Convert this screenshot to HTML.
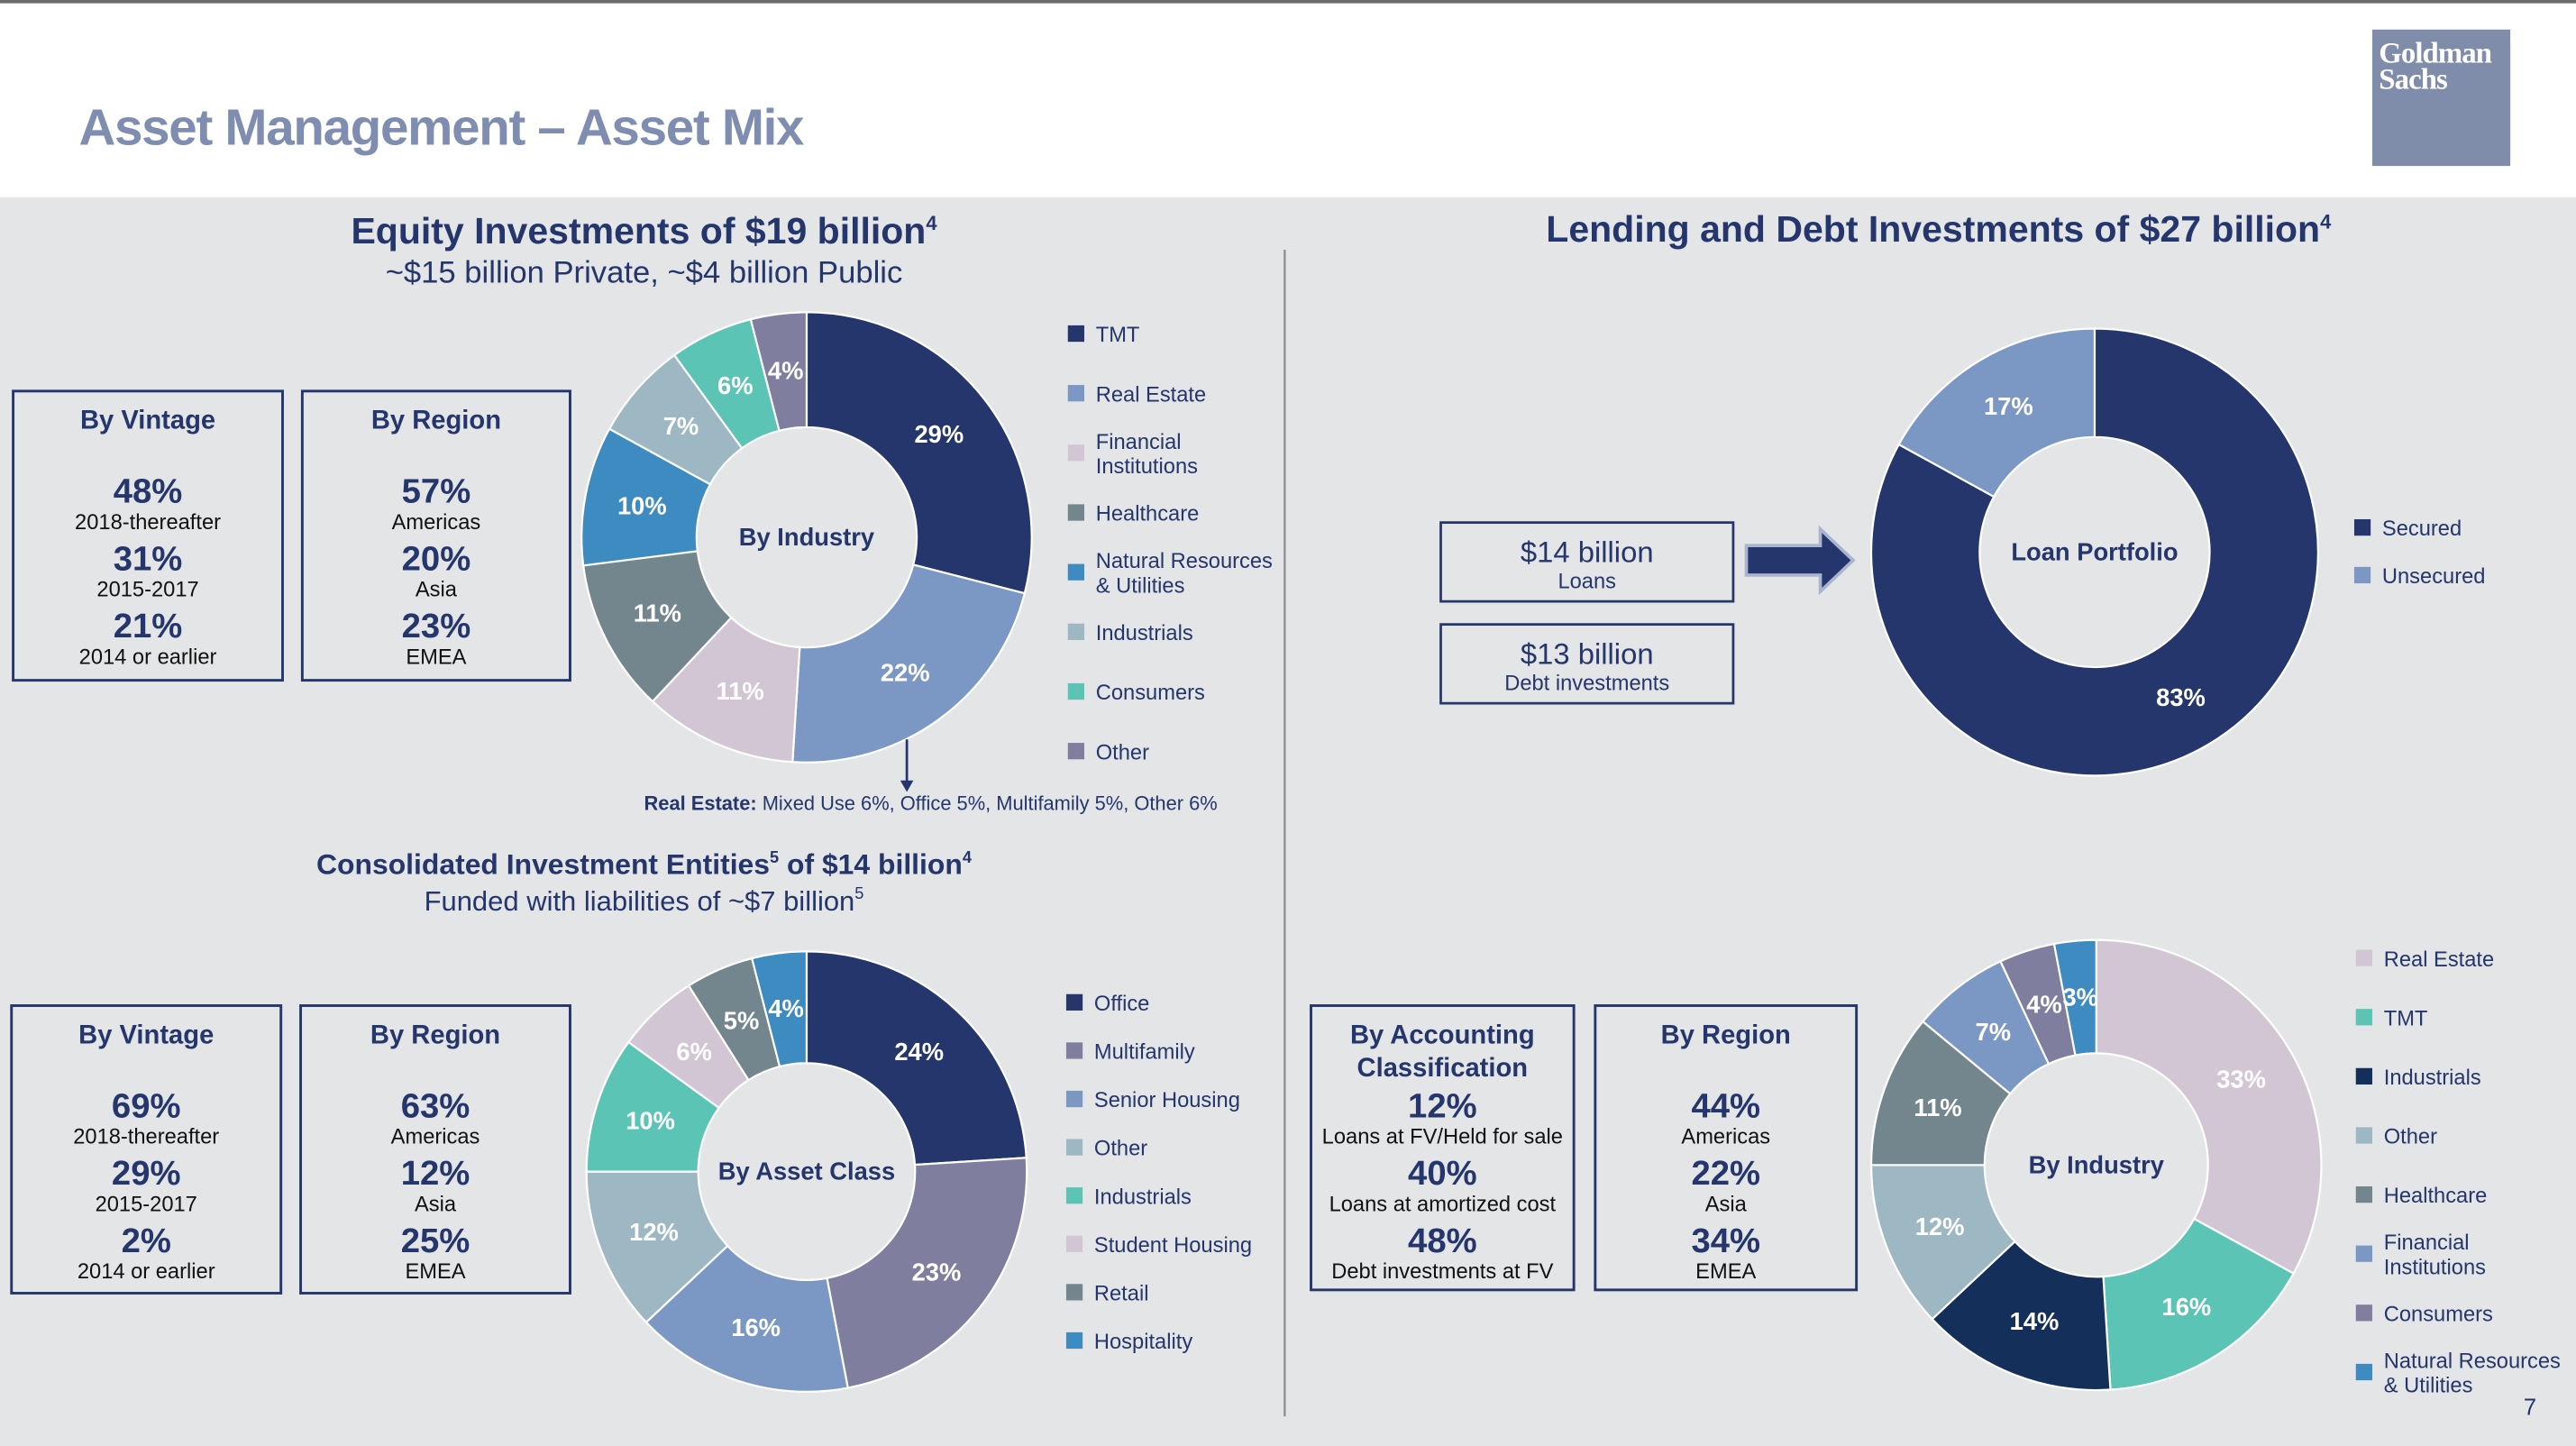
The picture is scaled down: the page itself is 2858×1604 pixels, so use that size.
<!DOCTYPE html>
<html><head><meta charset="utf-8"><style>
html,body{margin:0;padding:0;background:#fff;}
svg{display:block;font-family:"Liberation Sans",Arial,sans-serif;}
</style></head><body>
<svg id="s" width="2858" height="1604" viewBox="0 0 1568 880" xmlns="http://www.w3.org/2000/svg">
<rect x="0" y="0" width="1568" height="880" fill="#ffffff"/>
<rect x="0" y="0" width="1568" height="2" fill="#6b6b6b"/>
<rect x="0" y="120" width="1568" height="760" fill="#e4e5e7"/>
<text x="48" y="88" font-size="31" font-weight="bold" fill="#7f8db0" letter-spacing="-0.7">Asset Management – Asset Mix</text>
<g>
<rect x="1444" y="18" width="84" height="83" fill="#7f8dab"/>
<text x="1448" y="38" font-size="18" font-weight="bold" fill="#fff" font-family="Liberation Serif,serif" letter-spacing="-0.5">Goldman</text>
<text x="1448" y="54" font-size="18" font-weight="bold" fill="#fff" font-family="Liberation Serif,serif" letter-spacing="-0.5">Sachs</text>
</g>
<line x1="782" y1="152" x2="782" y2="862" stroke="#8a8a8a" stroke-width="1.2"/>

<text x="392" y="148" text-anchor="middle" font-size="22.5" font-weight="bold" fill="#24366b">Equity Investments of $19 billion<tspan font-size="12" dy="-8">4</tspan></text>
<text x="392" y="172" text-anchor="middle" font-size="19" fill="#24366b">~$15 billion Private, ~$4 billion Public</text>
<text x="1180" y="147" text-anchor="middle" font-size="22.5" font-weight="bold" fill="#24366b">Lending and Debt Investments of $27 billion<tspan font-size="12" dy="-8">4</tspan></text>
<text x="392" y="532" text-anchor="middle" font-size="17.5" font-weight="bold" fill="#24366b">Consolidated Investment Entities<tspan font-size="10" dy="-7">5</tspan><tspan dy="7"> of $14 billion</tspan><tspan font-size="10" dy="-7">4</tspan></text>
<text x="392" y="554" text-anchor="middle" font-size="17" fill="#24366b">Funded with liabilities of ~$7 billion<tspan font-size="10" dy="-7">5</tspan></text>

<g id="boxes"></g>
<g id="charts"></g>

<text x="392" y="493" font-size="12" fill="#24366b"><tspan font-weight="bold">Real Estate:</tspan> Mixed Use 6%, Office 5%, Multifamily 5%, Other 6%</text>
<line x1="552" y1="450" x2="552" y2="476" stroke="#24366b" stroke-width="1.5"/>
<polygon points="548,475 556,475 552,482" fill="#24366b"/>

<g><rect x="877" y="318" width="178" height="48" fill="none" stroke="#24366b" stroke-width="1.5"/>
<text x="966" y="342" text-anchor="middle" font-size="18" fill="#24366b">$14 billion</text><text x="966" y="358" text-anchor="middle" font-size="13" fill="#24366b">Loans</text></g>
<g><rect x="877" y="380" width="178" height="48" fill="none" stroke="#24366b" stroke-width="1.5"/>
<text x="966" y="404" text-anchor="middle" font-size="18" fill="#24366b">$13 billion</text><text x="966" y="420" text-anchor="middle" font-size="13" fill="#24366b">Debt investments</text></g>
<polygon points="1063,332 1108,332 1108,322 1128,341 1108,360 1108,350 1063,350" fill="#24366b" stroke="#a9b4cf" stroke-width="2"/>
<text x="1540" y="861" text-anchor="middle" font-size="14" fill="#24366b">7</text>
</svg>
<script>
const NS='http://www.w3.org/2000/svg';
function mk(tag,attrs,parent,txt){const e=document.createElementNS(NS,tag);for(const k in attrs)e.setAttribute(k,attrs[k]);if(txt!==undefined)e.textContent=txt;parent.appendChild(e);return e;}

// Chart 1: equity by industry
const eqCats=['TMT','Real Estate','Financial Institutions','Healthcare','Natural Resources & Utilities','Industrials','Consumers','Other'];
const eqVals=[29,22,11,11,10,7,6,4];
const eqCols=['#24366b','#7b98c4','#d3c6d4','#73858d','#3d8bc1','#9db8c3','#5cc4b4','#7f7e9e'];
const eqLegend=['TMT','Real Estate','Financial|Institutions','Healthcare','Natural Resources|& Utilities','Industrials','Consumers','Other'];
const eqLegendCols=['#24366b','#7b98c4','#d3c6d4','#73858d','#3d8bc1','#9db8c3','#5cc4b4','#7f7e9e'];
// Chart 2: loan portfolio
const loanCats=['Secured','Unsecured'];
const loanVals=[83,17];
const loanCols=['#24366b','#7b98c4'];
// Chart 3: consolidated by asset class
const ceCats=['Office','Multifamily','Senior Housing','Other','Industrials','Student Housing','Retail','Hospitality'];
const ceVals=[24,23,16,12,10,6,5,4];
const ceCols=['#24366b','#7f7e9e','#7b98c4','#9db8c3','#5cc4b4','#d3c6d4','#73858d','#3d8bc1'];
// Chart 4: lending by industry
const ldCats=['Real Estate','TMT','Industrials','Other','Healthcare','Financial Institutions','Consumers','Natural Resources & Utilities'];
const ldVals=[33,16,14,12,11,7,4,3];
const ldCols=['#d3c6d4','#5cc4b4','#14305a','#9db8c3','#73858d','#7b98c4','#7f7e9e','#3d8bc1'];
const ldLegend=['Real Estate','TMT','Industrials','Other','Healthcare','Financial|Institutions','Consumers','Natural Resources|& Utilities'];

const charts=document.getElementById('charts');
function donut(name,cx,cy,ro,ri,vals,cols,cats,center,labelR){
  const g=mk('g',{},charts);
  
  
  const tot=vals.reduce((a,b)=>a+b,0);
  let a0=0;
  vals.forEach((v,i)=>{
    const a1=a0+v/tot*2*Math.PI;
    const p=(r,a)=>[cx+r*Math.sin(a),cy-r*Math.cos(a)];
    const [x0,y0]=p(ro,a0),[x1,y1]=p(ro,a1),[x2,y2]=p(ri,a1),[x3,y3]=p(ri,a0);
    const lg=(a1-a0)>Math.PI?1:0;
    const s=mk('path',{d:`M${x0},${y0}A${ro},${ro} 0 ${lg} 1 ${x1},${y1}L${x2},${y2}A${ri},${ri} 0 ${lg} 0 ${x3},${y3}Z`,fill:cols[i],stroke:'#ffffff','stroke-width':1.2},g);
    
    
    const am=(a0+a1)/2;const lr=labelR||(ro+ri)/2;
    const [lx,ly]=p(lr,am);
    const t=mk('text',{x:lx,y:ly+5,'text-anchor':'middle','font-size':15,'font-weight':'bold',fill:'#ffffff'},g,v+'%');
    
    
    a0=a1;
  });
  const c=mk('text',{x:cx,y:cy+5,'text-anchor':'middle','font-size':15,'font-weight':'bold',fill:'#24366b'},g,center);
  
  
}
donut('equity-industry-donut',491,327,137,67,eqVals,eqCols,eqCats,'By Industry');
donut('loan-portfolio-donut',1275,336,136,70,loanVals,loanCols,loanCats,'Loan Portfolio');
donut('consolidated-asset-class-donut',491,713,134,66,ceVals,ceCols,ceCats,'By Asset Class');
donut('lending-industry-donut',1276,709,137,68,ldVals,ldCols,ldCats,'By Industry');

function legend(name,x,y0,dy,labels,cols){
  const g=mk('g',{},charts);
  
  
  labels.forEach((l,i)=>{
    const y=y0+i*dy;const parts=l.split('|');
    const e=mk('g',{},g);
    
    
    mk('rect',{x:x,y:y-5,width:10,height:10,fill:cols[i]},e);
    parts.forEach((p,j)=>mk('text',{x:x+17,y:y+5+j*15-(parts.length-1)*7.5,'font-size':13,fill:'#24366b'},e,p));
  });
}
legend('equity-industry-legend',650,203,36.3,eqLegend,eqLegendCols);
legend('loan-legend',1433,321,29,loanCats,loanCols);
legend('consolidated-legend',649,610,29.4,ceCats,ceCols);
legend('lending-industry-legend',1434,583,36,ldLegend,ldCols);

const boxes=document.getElementById('boxes');
function box(name,x,y,w,h,title,rows){
  const g=mk('g',{},boxes);
  
  
  mk('rect',{x:x,y:y,width:w,height:h,fill:'none',stroke:'#24366b','stroke-width':1.6},g);
  const cx=x+w/2;
  title.forEach((t,i)=>mk('text',{x:cx,y:y+23+i*20,'text-anchor':'middle','font-size':16,'font-weight':'bold',fill:'#24366b'},g,t));
  rows.forEach((r,i)=>{
    const by=y+68+i*41;
    mk('text',{x:cx,y:by,'text-anchor':'middle','font-size':21,'font-weight':'bold',fill:'#24366b'},g,r[0]);
    mk('text',{x:cx,y:by+16,'text-anchor':'middle','font-size':13,fill:'#111'},g,r[1]);
  });
}
box('equity-vintage-box',8,238,164,176,['By Vintage'],[['48%','2018-thereafter'],['31%','2015-2017'],['21%','2014 or earlier']]);
box('equity-region-box',184,238,163,176,['By Region'],[['57%','Americas'],['20%','Asia'],['23%','EMEA']]);
box('consolidated-vintage-box',7,612,164,175,['By Vintage'],[['69%','2018-thereafter'],['29%','2015-2017'],['2%','2014 or earlier']]);
box('consolidated-region-box',183,612,164,175,['By Region'],[['63%','Americas'],['12%','Asia'],['25%','EMEA']]);
box('lending-accounting-box',798,612,160,173,['By Accounting','Classification'],[['12%','Loans at FV/Held for sale'],['40%','Loans at amortized cost'],['48%','Debt investments at FV']]);
box('lending-region-box',971,612,159,173,['By Region'],[['44%','Americas'],['22%','Asia'],['34%','EMEA']]);
</script>
</body></html>
